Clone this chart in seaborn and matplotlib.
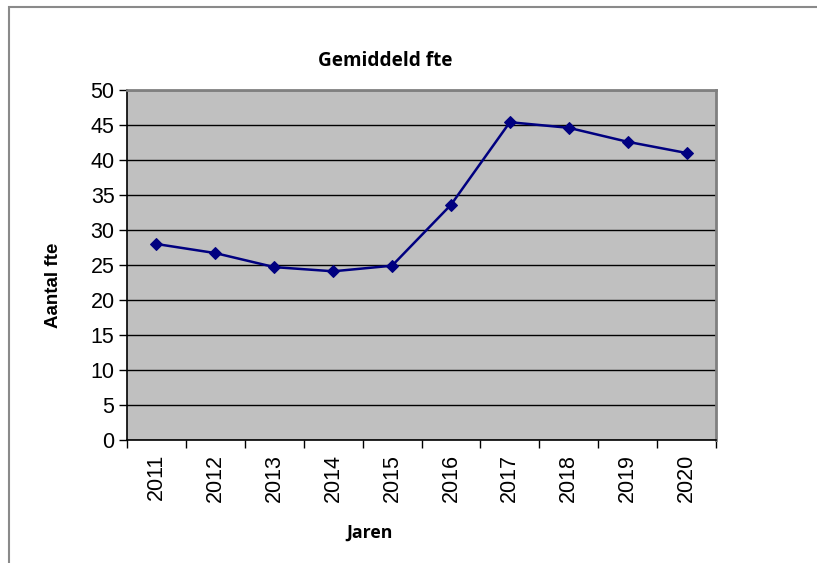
import numpy as np
import pandas as pd
import seaborn as sns
import matplotlib.pyplot as plt
import matplotlib.ticker as ticker
from matplotlib.patches import Rectangle

sns.set_style("white")
plt.rcParams["font.family"] = ["Liberation Sans", "DejaVu Sans"]
plt.rcParams["text.color"] = "black"
plt.rcParams["xtick.color"] = "black"
plt.rcParams["ytick.color"] = "black"

years = ["2011", "2012", "2013", "2014", "2015", "2016", "2017", "2018", "2019", "2020"]
fte = [28.0, 26.7, 24.7, 24.1, 24.9, 33.6, 45.4, 44.6, 42.6, 41.0]

W, H = 817, 563
fig = plt.figure(figsize=(W / 100, H / 100), dpi=100)

# plot area in pixels: left 127, right 716, top 90, bottom 440
ax = fig.add_axes([127 / W, 1 - 440 / H, (716 - 127) / W, (440 - 90) / H])
ax.set_facecolor("#c0c0c0")

df = pd.DataFrame({"pos": np.arange(len(years)), "fte": fte})
sns.lineplot(df, x="pos", y="fte", ax=ax, color="#000080", linewidth=1.8,
             marker="D", markersize=6.5, markeredgecolor="#000080")

ax.set_xlim(-0.5, len(years) - 0.5)
ax.set_ylim(0, 50)
ax.yaxis.set_major_locator(ticker.MultipleLocator(5))
ax.yaxis.grid(True, color="black", linewidth=1)
ax.set_axisbelow(True)

# ticks between the categories, labels at the centres
ax.set_xticks(np.arange(-0.5, len(years), 1))
ax.set_xticklabels([])
ax.set_xticks(np.arange(len(years)), minor=True)
ax.set_xticklabels(years, minor=True, rotation=90, fontsize=15.5)
ax.tick_params(axis="x", which="major", direction="out", length=6, width=1, color="black", bottom=True)
ax.tick_params(axis="x", which="minor", length=0, pad=10)
ax.tick_params(axis="y", direction="out", length=6, width=1, color="black", left=True, labelsize=15.5, pad=3)

ax.set_xlabel("")
ax.set_ylabel("")
for side in ["left", "bottom"]:
    ax.spines[side].set_color("black")
    ax.spines[side].set_linewidth(1.2)
for side in ["top", "right"]:
    ax.spines[side].set_color("#808080")
    ax.spines[side].set_linewidth(2)

open_sans = ["Open Sans", "DejaVu Sans"]
fig.text(385 / W, 1 - 61 / H, "Gemiddeld fte", ha="center", va="center",
         fontsize=13.7, fontweight="bold", family=open_sans)
fig.text(54 / W, 1 - 285 / H, "Aantal fte", ha="center", va="center", rotation=90,
         fontsize=13.5, fontweight="bold")
fig.text(369.5 / W, 1 - 533 / H, "Jaren", ha="center", va="center",
         fontsize=12.8, fontweight="bold", family=open_sans)

# outer chart frame (right and bottom edges lie outside the image)
fig.patches.append(Rectangle((8.5 / W, -0.1), 1.2, 1.1 - 7.5 / H, transform=fig.transFigure,
                             fill=False, edgecolor="#8a8a8a", linewidth=1.5))

fig.savefig("out.png", dpi=100)
